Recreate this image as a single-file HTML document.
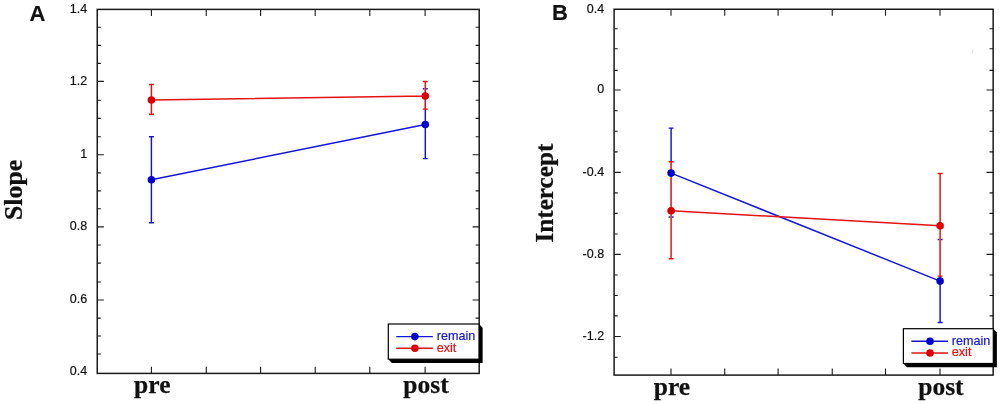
<!DOCTYPE html>
<html><head><meta charset="utf-8"><title>Figure</title>
<style>
html,body{margin:0;padding:0;background:#fff}
svg{display:block}
.tk{font-family:"Liberation Sans",Arial,sans-serif;font-size:12.5px;fill:#111;stroke:#111;stroke-width:0.2px}
.lg{font-family:"Liberation Sans",Arial,sans-serif;font-size:12.6px}
.xl{font-family:"Liberation Serif","Times New Roman",serif;font-weight:bold;font-size:25.5px;fill:#111;stroke:#111;stroke-width:0.25px}
.yl{font-family:"Liberation Serif","Times New Roman",serif;font-weight:bold;font-size:25.6px;fill:#111;stroke:#111;stroke-width:0.25px}
.lt{font-family:"Liberation Sans",Arial,sans-serif;font-weight:bold;font-size:22px;fill:#111;stroke:#111;stroke-width:0.15px}
</style></head><body>
<svg width="1000" height="404" viewBox="0 0 1000 404">
<rect width="1000" height="404" fill="#fff"/>
<rect x="97.25" y="9.4" width="381.95" height="364.0" fill="none" stroke="#1a1a1a" stroke-width="1.5"/>
<path d="M97.25 81.4h6.6M479.2 81.4h-6.6M97.25 154.75h6.6M479.2 154.75h-6.6M97.25 226.9h6.6M479.2 226.9h-6.6M97.25 300h6.6M479.2 300h-6.6M97.25 27.3h3.6M479.2 27.3h-3.6M97.25 45.4h3.6M479.2 45.4h-3.6M97.25 63.4h3.6M479.2 63.4h-3.6M97.25 100.2h3.6M479.2 100.2h-3.6M97.25 118.4h3.6M479.2 118.4h-3.6M97.25 136.7h3.6M479.2 136.7h-3.6M97.25 172.9h3.6M479.2 172.9h-3.6M97.25 190.9h3.6M479.2 190.9h-3.6M97.25 208.8h3.6M479.2 208.8h-3.6M97.25 245h3.6M479.2 245h-3.6M97.25 263.1h3.6M479.2 263.1h-3.6M97.25 282h3.6M479.2 282h-3.6M97.25 318.1h3.6M479.2 318.1h-3.6M97.25 336h3.6M479.2 336h-3.6M97.25 354h3.6M479.2 354h-3.6M151.4 373.4v-6.6M151.4 9.4v6.6M206.25 373.4v-6.6M206.25 9.4v6.6M260.6 373.4v-6.6M260.6 9.4v6.6M315.2 373.4v-6.6M315.2 9.4v6.6M369.8 373.4v-6.6M369.8 9.4v6.6M425.1 373.4v-6.6M425.1 9.4v6.6" stroke="#1a1a1a" stroke-width="1.1" fill="none"/>
<text x="87.25" y="12.7" text-anchor="end" class="tk">1.4</text>
<text x="87.25" y="84.7" text-anchor="end" class="tk">1.2</text>
<text x="87.25" y="158.05" text-anchor="end" class="tk">1</text>
<text x="87.25" y="230.20000000000002" text-anchor="end" class="tk">0.8</text>
<text x="87.25" y="303.3" text-anchor="end" class="tk">0.6</text>
<text x="87.25" y="375.40000000000003" text-anchor="end" class="tk">0.4</text>
<path d="M151.4 179.75L425.3 124.5M151.4 136.75V222.75M148.9 136.75h5M148.9 222.75h5M425.3 88.8V158.6M422.8 88.8h5M422.8 158.6h5" stroke="#1414d6" stroke-width="1.45" fill="none"/>
<path d="M151.4 84.5V114.25M425.3 81.4V109.1" stroke="#fff" stroke-width="1.7" fill="none"/>
<path d="M151.4 100L425.3 96M151.4 84.5V114.25M148.9 84.5h5M148.9 114.25h5M425.3 81.4V109.1M422.8 81.4h5M422.8 109.1h5" stroke="#e41212" stroke-width="1.45" fill="none"/>
<circle cx="151.4" cy="179.75" r="3.8" fill="#0000cc"/><circle cx="425.3" cy="124.5" r="3.8" fill="#0000cc"/>
<circle cx="151.4" cy="100" r="3.8" fill="#dd0000"/><circle cx="425.3" cy="96" r="3.8" fill="#dd0000"/>
<path d="M388.3 359.2l3.6 3.8h90.7v-35.2l-3.6 -3.8z" fill="#000"/>
<rect x="388.3" y="324.0" width="90.7" height="35.2" fill="#fff" stroke="#000" stroke-width="1.2"/>
<path d="M396.3 336.6h36.6" stroke="#1414d6" stroke-width="1.45"/><circle cx="414.90000000000003" cy="336.6" r="3.8" fill="#0000cc"/>
<text x="436.7" y="339.90000000000003" class="lg" fill="#1414d6" stroke="#1414d6" stroke-width="0.2">remain</text>
<path d="M396.3 348.3h36.6" stroke="#e41212" stroke-width="1.45"/><circle cx="414.90000000000003" cy="348.3" r="3.8" fill="#dd0000"/>
<text x="436.7" y="351.6" class="lg" fill="#e41212" stroke="#e41212" stroke-width="0.2">exit</text>
<text x="152.3" y="393.0" text-anchor="middle" class="xl">pre</text>
<text x="426.0" y="393.0" text-anchor="middle" class="xl">post</text>
<text transform="translate(22 189.9) rotate(-90)" text-anchor="middle" class="yl" style="font-size:25.8px">Slope</text>
<text x="29.5" y="21.0" class="lt">A</text>
<rect x="614.1" y="9.25" width="379.04999999999995" height="365.85" fill="none" stroke="#1a1a1a" stroke-width="1.5"/>
<path d="M614.1 90h6.6M993.15 90h-6.6M614.1 172.4h6.6M993.15 172.4h-6.6M614.1 254.4h6.6M993.15 254.4h-6.6M614.1 336.5h6.6M993.15 336.5h-6.6M614.1 28.75h3.6M993.15 28.75h-3.6M614.1 48.75h3.6M993.15 48.75h-3.6M614.1 70.4h3.6M993.15 70.4h-3.6M614.1 110.75h3.6M993.15 110.75h-3.6M614.1 131.3h3.6M993.15 131.3h-3.6M614.1 151.9h3.6M993.15 151.9h-3.6M614.1 192.9h3.6M993.15 192.9h-3.6M614.1 213.4h3.6M993.15 213.4h-3.6M614.1 234h3.6M993.15 234h-3.6M614.1 275h3.6M993.15 275h-3.6M614.1 295.5h3.6M993.15 295.5h-3.6M614.1 315.9h3.6M993.15 315.9h-3.6M614.1 357.2h3.6M993.15 357.2h-3.6M671.0 375.1v-6.6M671.0 9.25v6.6M724.75 375.1v-6.6M724.75 9.25v6.6M778.1 375.1v-6.6M778.1 9.25v6.6M832.25 375.1v-6.6M832.25 9.25v6.6M885.5 375.1v-6.6M885.5 9.25v6.6M940.0 375.1v-6.6M940.0 9.25v6.6" stroke="#1a1a1a" stroke-width="1.1" fill="none"/>
<text x="604.1" y="12.55" text-anchor="end" class="tk">0.4</text>
<text x="604.1" y="93.3" text-anchor="end" class="tk">0</text>
<text x="604.1" y="175.70000000000002" text-anchor="end" class="tk">-0.4</text>
<text x="604.1" y="257.7" text-anchor="end" class="tk">-0.8</text>
<text x="604.1" y="339.8" text-anchor="end" class="tk">-1.2</text>
<path d="M671.1 173.1L940.1 281.1M671.1 128.1V216.9M668.6 128.1h5M668.6 216.9h5M940.1 239.5V322.4M937.6 239.5h5M937.6 322.4h5" stroke="#1414d6" stroke-width="1.45" fill="none"/>
<path d="M671.1 161.7V258.7M940.1 173.4V276.1" stroke="#fff" stroke-width="1.7" fill="none"/>
<path d="M671.1 210.7L940.1 225.8M671.1 161.7V258.7M668.6 161.7h5M668.6 258.7h5M940.1 173.4V276.1M937.6 173.4h5M937.6 276.1h5" stroke="#e41212" stroke-width="1.45" fill="none"/>
<circle cx="671.1" cy="173.1" r="3.8" fill="#0000cc"/><circle cx="940.1" cy="281.1" r="3.8" fill="#0000cc"/>
<circle cx="671.1" cy="210.7" r="3.8" fill="#dd0000"/><circle cx="940.1" cy="225.8" r="3.8" fill="#dd0000"/>
<path d="M903.4 363.5l3.6 3.8h89.9v-34.8l-3.6 -3.8z" fill="#000"/>
<rect x="903.4" y="328.7" width="89.9" height="34.8" fill="#fff" stroke="#000" stroke-width="1.2"/>
<path d="M911.4 341.3h36.6" stroke="#1414d6" stroke-width="1.45"/><circle cx="930.0" cy="341.3" r="3.8" fill="#0000cc"/>
<text x="951.8" y="344.6" class="lg" fill="#1414d6" stroke="#1414d6" stroke-width="0.2">remain</text>
<path d="M911.4 353.0h36.6" stroke="#e41212" stroke-width="1.45"/><circle cx="930.0" cy="353.0" r="3.8" fill="#dd0000"/>
<text x="951.8" y="356.3" class="lg" fill="#e41212" stroke="#e41212" stroke-width="0.2">exit</text>
<text x="671.9" y="394.9" text-anchor="middle" class="xl">pre</text>
<text x="940.9" y="394.9" text-anchor="middle" class="xl">post</text>
<text transform="translate(552.8 193.1) rotate(-90)" text-anchor="middle" class="yl" style="font-size:25.2px">Intercept</text>
<text x="551.9" y="20.3" class="lt">B</text>
<rect x="972" y="49.8" width="1.2" height="2.6" fill="#e6e6e6"/>
</svg>
</body></html>
